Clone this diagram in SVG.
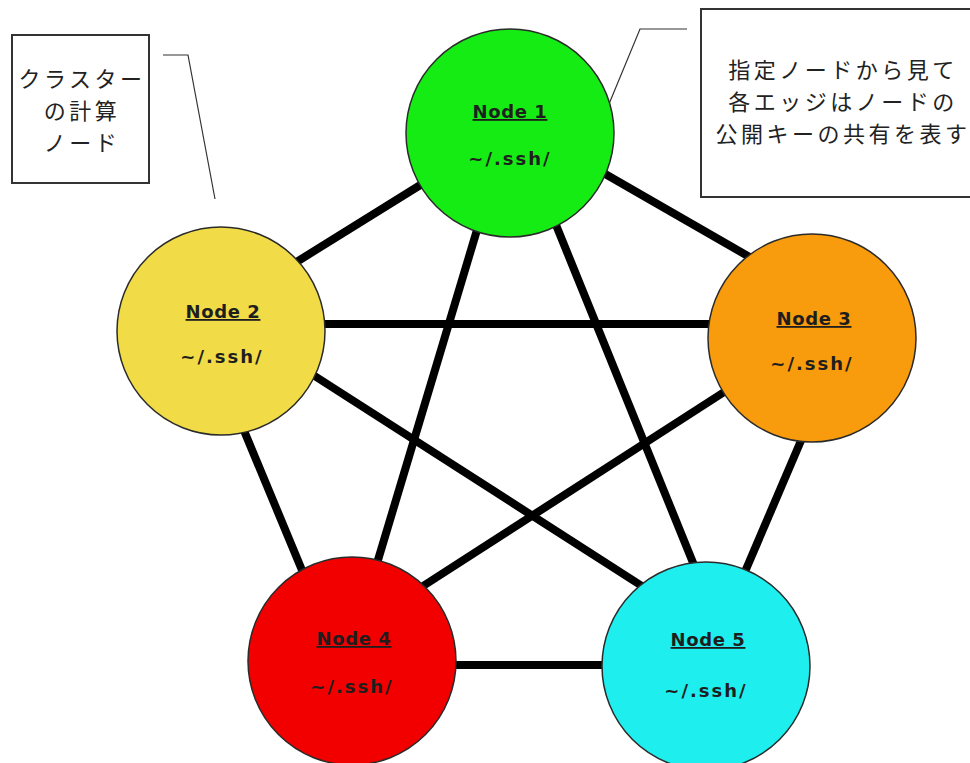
<svg xmlns="http://www.w3.org/2000/svg" width="970" height="763" viewBox="0 0 970 763">
<style>
.edge{stroke:#000;stroke-width:8;stroke-linecap:butt}
.node circle{stroke:#2a2a2a;stroke-width:1.5}
.t{font-family:"DejaVu Sans",Verdana,sans-serif;font-weight:bold;font-size:18px;fill:#1e1e1e;text-anchor:middle;letter-spacing:0.6px}
.u{text-decoration:underline}
.s{letter-spacing:2px}
.box{fill:#fff;stroke:#333;stroke-width:2}
.lead{fill:none;stroke:#333;stroke-width:1.2}
.jp{font-family:"Noto Sans CJK JP",sans-serif;font-size:22px;letter-spacing:3.5px;fill:#222;text-anchor:middle}
</style>
<rect width="970" height="763" fill="#fff"/>
<g id="connectors">
<line class="edge" x1="290" y1="266" x2="430" y2="179"/>
<line class="edge" x1="600" y1="171" x2="760" y2="263"/>
<line class="edge" x1="478.5" y1="225" x2="375" y2="570"/>
<line class="edge" x1="554" y1="220" x2="698" y2="575"/>
<line class="edge" x1="320" y1="324" x2="715" y2="324"/>
<line class="edge" x1="239.6" y1="420" x2="304" y2="575"/>
<line class="edge" x1="310" y1="373" x2="645" y2="588"/>
<line class="edge" x1="735" y1="385" x2="420" y2="588"/>
<line class="edge" x1="803.4" y1="435" x2="743.6" y2="575"/>
<line class="edge" x1="450" y1="665" x2="610" y2="665"/>
<polyline class="lead" points="163,55 188,55 215,199"/>
<polyline class="lead" points="687,29 640,29 609,104"/>
</g>
<g id="node1" class="node">
<circle cx="510" cy="133" r="104" fill="#14EC14"/>
<text class="t u" x="510" y="118">Node 1</text>
<text class="t s" x="510" y="165">~/.ssh/</text>
</g>
<g id="node2" class="node">
<circle cx="221" cy="331" r="104" fill="#F1DC48"/>
<text class="t u" x="223" y="318">Node 2</text>
<text class="t s" x="222" y="363">~/.ssh/</text>
</g>
<g id="node3" class="node">
<circle cx="812" cy="338" r="104" fill="#F89B0C"/>
<text class="t u" x="814" y="325">Node 3</text>
<text class="t s" x="812" y="370">~/.ssh/</text>
</g>
<g id="node4" class="node">
<circle cx="352" cy="661" r="104" fill="#F20000"/>
<text class="t u" x="354" y="645">Node 4</text>
<text class="t s" x="352" y="693">~/.ssh/</text>
</g>
<g id="node5" class="node">
<circle cx="706" cy="666" r="104" fill="#1EEEEE"/>
<text class="t u" x="708" y="646">Node 5</text>
<text class="t s" x="706" y="697">~/.ssh/</text>
</g>
<g id="callout-left">
<rect class="box" x="12" y="35" width="137" height="148"/>
<text class="jp" x="82" y="87">クラスター</text>
<text class="jp" x="82" y="119">の計算</text>
<text class="jp" x="82" y="151">ノード</text>
</g>
<g id="callout-right">
<rect class="box" x="701" y="9" width="290" height="188"/>
<text class="jp" x="843" y="78">指定ノードから見て</text>
<text class="jp" x="843" y="110">各エッジはノードの</text>
<text class="jp" x="843" y="142">公開キーの共有を表す</text>
</g>
</svg>
